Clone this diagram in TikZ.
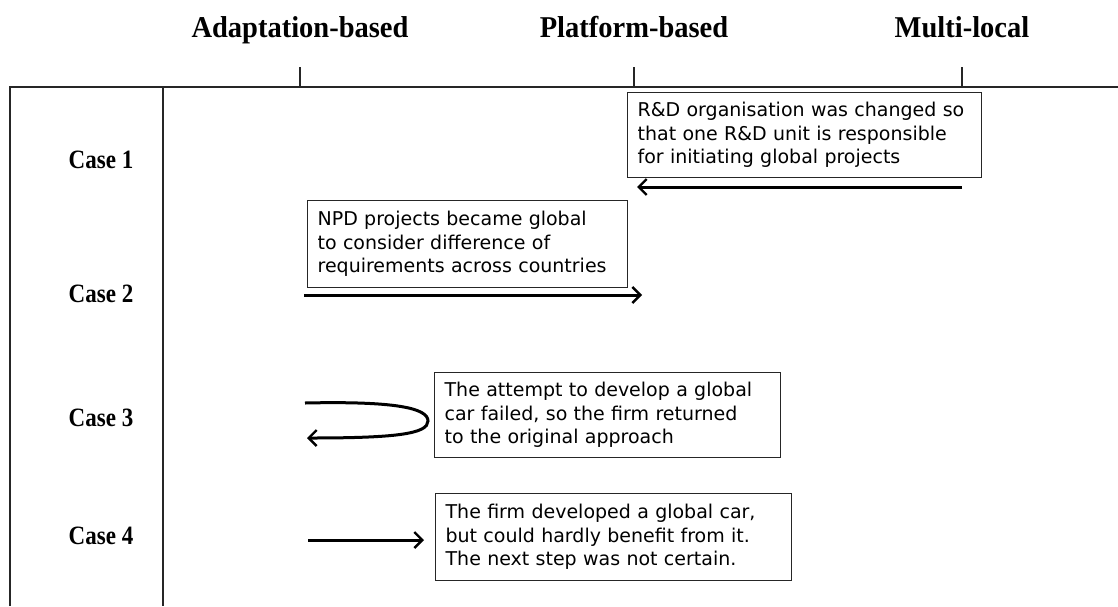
\documentclass[tikz,border=0pt]{standalone}
\usepackage{fontspec}
\setmainfont{Liberation Serif}
\newfontfamily\boxfont{DejaVu Sans}
\usetikzlibrary{arrows.meta}
\begin{document}
\begin{tikzpicture}[x=1pt,y=-1pt,
  frame/.style={line width=1.4pt,draw=black!85},
  head/.style={font=\fontsize{28.5}{32}\selectfont\bfseries,anchor=base},
  caselbl/.style={font=\fontsize{23}{26}\selectfont\bfseries,anchor=base},
  note/.style n args={2}{draw=black!85,line width=1.2pt,font=\boxfont\fontsize{19}{23.5}\selectfont,align=left,inner xsep=10pt,inner ysep=3pt,anchor=north west,text width=#1-20pt,minimum height=#2},
  move/.style={line width=3pt,-{Straight Barb[length=8pt,width=16pt,line width=2.4pt]}}]
\useasboundingbox (0,0) rectangle (1118,606);
% frame
\coordinate (tl) at (10,87);
\coordinate (tr) at (1118,87);
\coordinate (bl) at (10,606);
\coordinate (ct) at (163,87);
\coordinate (cb) at (163,606);
\draw[frame] (bl) -- (tl) -- (tr);
\draw[frame] (ct) -- (cb);
% ticks and headers
\foreach \x/\n/\t in {300/a/Adaptation-based,634/p/Platform-based,962/m/Multi-local}{
  \coordinate (tick\n) at (\x,67);
  \coordinate (base\n) at (\x,87);
  \draw[frame] (tick\n) -- (base\n);
  \node[head] (h\n) at (\x,37) {\scalebox{1}[1.06]{\t}};
}
% case labels
\node[caselbl] (c1) at (101,168) {\scalebox{1}[1.15]{Case 1}};
\node[caselbl] (c2) at (101,302) {\scalebox{1}[1.15]{Case 2}};
\node[caselbl] (c3) at (101,426) {\scalebox{1}[1.15]{Case 3}};
\node[caselbl] (c4) at (101,544) {\scalebox{1}[1.15]{Case 4}};
% notes
\node[note={354pt}{85pt}] (n1) at (627,92) {R\&D organisation was changed so\\that one R\&D unit is responsible\\for initiating global projects};
\node[note={320pt}{87pt}] (n2) at (307,200) {NPD projects became global\\to consider difference of\\requirements across countries};
\node[note={346pt}{85pt}] (n3) at (434,372) {The attempt to develop a global\\car failed, so the firm returned\\to the original approach};
\node[note={356pt}{87pt}] (n4) at (435,493) {The firm developed a global car,\\but could hardly benefit from it.\\The next step was not certain.};
% arrows
\coordinate (a1s) at (962,187);
\coordinate (a1e) at (637,187);
\draw[move] (a1s) -- (a1e);
\coordinate (a2s) at (304,295);
\coordinate (a2e) at (642,295);
\draw[move] (a2s) -- (a2e);
\coordinate (a3s) at (305,403);
\coordinate (a3m) at (428,421);
\coordinate (a3e) at (307,438);
\draw[move] (a3s) .. controls (395,401) and (428,408) .. (a3m) .. controls (428,434) and (395,438) .. (a3e);
\coordinate (a4s) at (308,540);
\coordinate (a4e) at (424,540);
\draw[move] (a4s) -- (a4e);
\end{tikzpicture}
\end{document}
